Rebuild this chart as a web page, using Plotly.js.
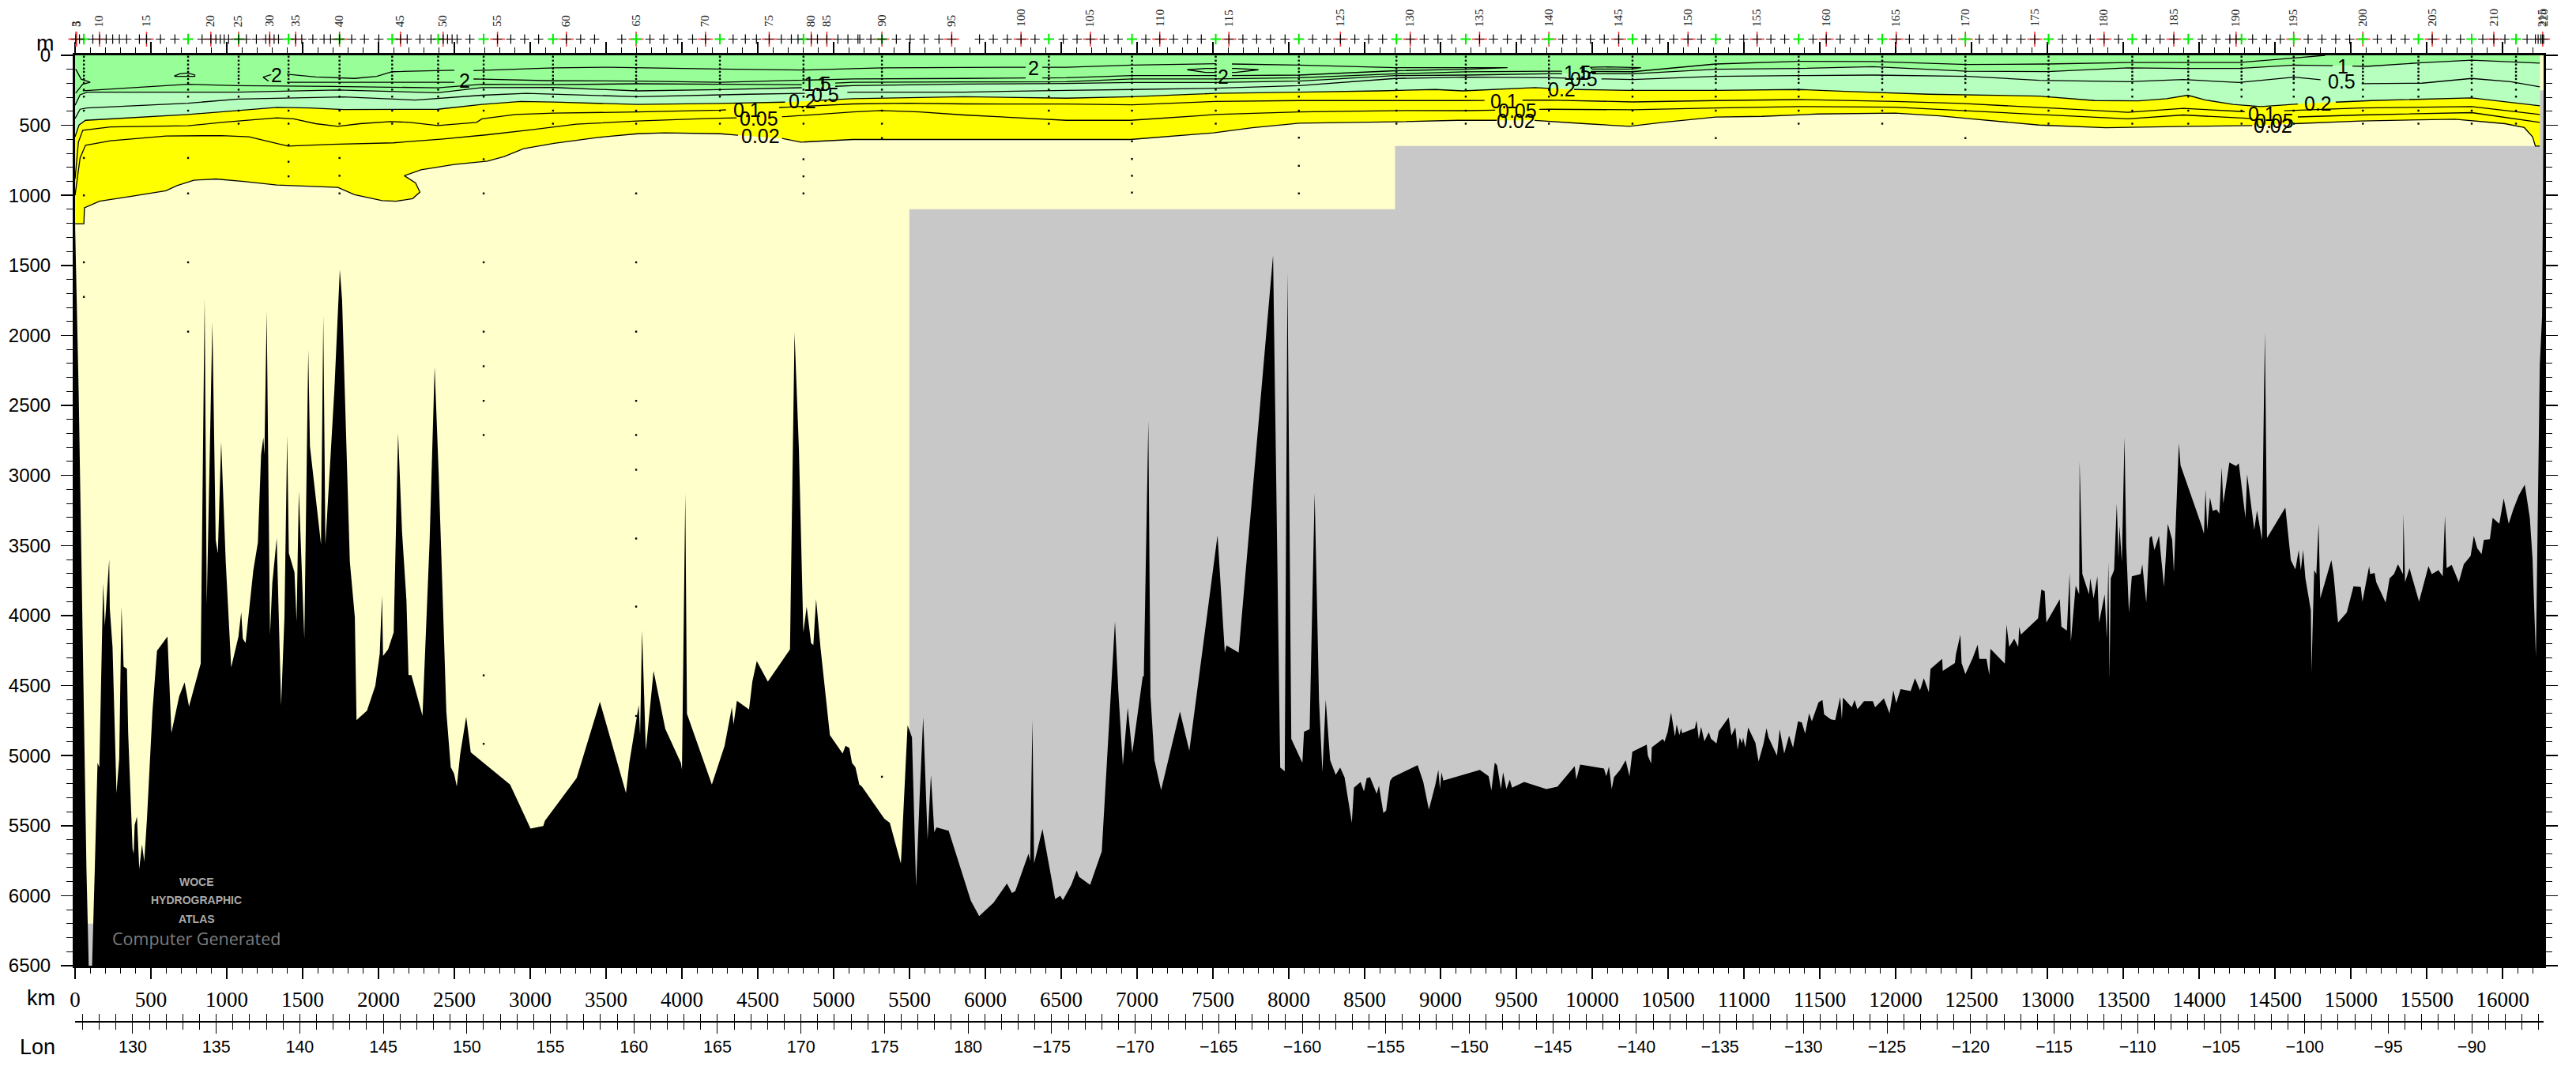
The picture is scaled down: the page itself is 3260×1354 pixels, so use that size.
<!DOCTYPE html>
<html><head><meta charset="utf-8">
<script src="https://cdn.plot.ly/plotly-3.0.1.min.js"></script>
<style>html,body{margin:0;padding:0;background:#fff}#c{width:3260px;height:1354px}</style></head>
<body><div id="c"></div>
<script>
// ---- sea-floor profile: [distance km, depth m]
const bottomWest=[[0,1200],[24,2418],[75,5800],[90,6500],[112,6500],[130,5800],[148,5044],[160,5074],[185,3762],[196,4067],[225,3594],[229,3945],[247,4220],[273,5258],[291,5013],[306,3930],[320,4357],[342,4372],[350,4830],[379,5655],[386,5690],[393,5487],[408,5426],[423,5800],[441,5624],[456,5746],[474,5441],[510,4678],[540,4244],[609,4143],[635,4830],[686,4570],[722,4470],[751,4641],[828,4336],[854,1731],[868,3914],[905,1899],[927,3456],[941,3550],[963,2754],[993,3609],[1029,4363],[1077,4143],[1095,3969],[1106,4158],[1124,4189],[1175,3670],[1205,3472],[1226,2846],[1241,2724],[1248,2846],[1263,1823],[1285,4128],[1300,3762],[1329,3441],[1358,4632],[1380,4006],[1398,2708],[1409,3548],[1446,3685],[1460,4036],[1475,3105],[1511,4158],[1537,2098],[1548,2785],[1621,3487],[1636,1854],[1650,3487],[1709,2388],[1745,1527],[1760,1747],[1811,3609],[1844,4006],[1855,4739],[1924,4671],[1979,4494],[2008,4266],[2023,3853],[2030,4281],[2063,4235],[2100,4113],[2129,2693],[2155,3395],[2184,3884],[2198,4418],[2217,4418],[2290,4708],[2337,3456],[2370,2220],[2396,2968],[2425,3930],[2447,4678],[2476,5074],[2498,5120],[2516,5212],[2538,4983],[2578,4714],[2608,4968],[2867,5197],[3002,5511],[3086,5493],[3097,5456],[3306,5151],[3459,4607],[3631,5258],[3653,5044],[3715,4632],[3724,4845],[3737,4098],[3762,4952],[3813,4388],[3890,4800],[3993,5044],[4000,5090],[4022,3121],[4033,4693],[4197,5197],[4281,4922],[4329,4647],[4340,4769],[4362,4601],[4442,4662],[4464,4464],[4493,4317],[4566,4464],[4712,4235],[4742,1976],[4771,2815],[4800,4113],[4822,3930],[4851,4189],[4866,4204],[4884,3875],[4913,4220],[4975,4845],[5059,4977],[5078,4922],[5103,4937],[5121,5044],[5143,5074],[5169,5197],[5186,5212],[5334,5441],[5370,5471],[5443,5761],[5487,4775],[5516,4861]];
const bottomCentral=[[5543,5923],[5568,5247],[5590,4718],[5619,5589],[5641,5128],[5663,5537],[5678,5503],[5758,5527],[5904,6026],[5959,6135],[6054,6040],[6142,5903],[6175,5971],[6197,5957],[6284,5691],[6295,5742],[6310,4735],[6321,5759],[6376,5514],[6460,6015],[6493,5991],[6511,6022],[6566,5913],[6602,5810],[6617,5855],[6690,5913],[6767,5674],[6854,4035],[6876,4530],[6906,5060],[6938,4650],[6968,4974],[7037,4428],[7044,4428],[7074,2602],[7088,4565],[7114,5025],[7158,5237],[7282,4677],[7344,4957],[7530,3421],[7578,4257],[7589,4206],[7669,4257],[7896,1424],[7943,5077],[7973,5104],[7991,1543],[8016,4872],[8089,5043],[8100,4821],[8137,4804],[8170,3120],[8199,4600],[8221,5111],[8243,4592],[8272,5025],[8309,5128],[8338,5077],[8367,5145],[8415,5469],[8429,5220],[8473,5179],[8495,5247],[8513,5152],[8535,5145],[8579,5264],[8594,5206],[8623,5401],[8641,5384],[8667,5172],[8685,5145],[8849,5060],[8886,5179],[8923,5377],[8966,5196],[8985,5094],[8996,5230],[9006,5111],[9018,5169],[9259,5094],[9317,5138],[9335,5240],[9357,5043],[9372,5060],[9398,5230],[9412,5111],[9434,5230],[9456,5162],[9471,5220],[9551,5179],[9697,5230],[9770,5213],[9884,5066],[9895,5162],[9920,5056],[10077,5084],[10092,5138],[10110,5070],[10128,5230],[10143,5145],[10183,5094],[10205,5053],[10220,5025],[10245,5138],[10264,4964],[10359,4913],[10366,4991],[10388,5049],[10392,4933],[10465,4872],[10476,4892],[10497,4821],[10519,4684],[10545,4855],[10556,4770],[10574,4845],[10585,4797],[10592,4831],[10676,4797],[10687,4742],[10702,4872],[10717,4786],[10739,4889]];
const bottomEast=[[10768,4825],[10782,4871],[10819,4905],[10833,4819],[10899,4719],[10917,4848],[10943,4790],[10958,4949],[10972,4862],[10987,4905],[10994,4862],[11009,4934],[11027,4790],[11075,4900],[11096,5035],[11129,4905],[11148,4796],[11162,4862],[11217,4992],[11235,4805],[11265,4977],[11297,4848],[11323,4934],[11356,4747],[11381,4756],[11403,4834],[11429,4690],[11447,4747],[11491,4612],[11517,4595],[11528,4698],[11572,4733],[11601,4739],[11634,4575],[11645,4733],[11652,4578],[11710,4647],[11729,4595],[11747,4661],[11791,4604],[11849,4604],[11864,4647],[11922,4583],[11959,4690],[11984,4526],[12003,4618],[12032,4517],[12098,4532],[12127,4440],[12160,4526],[12185,4440],[12218,4538],[12229,4374],[12306,4302],[12310,4388],[12390,4331],[12397,4267],[12426,4130],[12434,4331],[12459,4411],[12507,4296],[12540,4201],[12551,4302],[12598,4302],[12617,4417],[12624,4230],[12719,4336],[12730,4058],[12748,4216],[12781,4158],[12807,4216],[12814,4072],[12825,4129],[12938,4014],[12960,3808],[12982,3820],[12993,4043],[13081,3877],[13092,4072],[13128,4101],[13146,3690],[13154,4181],[13186,3779],[13209,3842],[13212,2894],[13230,3698],[13274,3842],[13282,3727],[13304,3871],[13329,3713],[13340,4043],[13377,3842],[13391,4158],[13402,3612],[13409,4446],[13417,3727],[13439,3670],[13457,3195],[13468,3583],[13475,3354],[13490,3612],[13508,2721],[13519,3497],[13537,3971],[13556,3713],[13614,3698],[13625,3627],[13651,3900],[13673,3440],[13687,3425],[13705,3526],[13735,3425],[13768,3785],[13793,3339],[13822,3454],[13833,3684],[13866,2764],[13877,2922],[14016,3353],[14031,3411],[14042,3095],[14053,3382],[14071,3152],[14089,3247],[14115,3238],[14133,3267],[14148,2937],[14159,3195],[14199,2902],[14243,2928],[14261,2908],[14305,3296],[14316,2986],[14363,3382],[14381,3244],[14414,3454],[14433,1974],[14447,3440],[14568,3224],[14604,3598],[14634,3664],[14656,3526],[14670,3670],[14685,3526],[14700,3727],[14736,3957],[14740,4388],[14758,3670],[14772,3698],[14787,3339],[14798,3871],[14871,3598],[14886,3698],[14915,4043],[14973,3971],[15017,3785],[15065,3790],[15076,3894],[15120,3641],[15127,3698],[15156,3690],[15167,3756],[15229,3900],[15255,3727],[15284,3698],[15310,3627],[15343,3698],[15346,3267],[15357,3756],[15386,3655],[15449,3894],[15511,3641],[15533,3698],[15577,3670],[15605,3713],[15620,3282],[15631,3655],[15664,3632],[15711,3756],[15744,3627],[15789,3569],[15810,3425],[15832,3512],[15861,3555],[15876,3454],[15916,3448],[15934,3296],[15978,3339],[16007,3158],[16040,3339],[16070,3238],[16106,3138],[16146,3060],[16179,3296],[16197,3584],[16219,4288],[16245,2204],[16260,1859],[16266,1000],[16270,250]];
// ---- background regions
const paleZone=[[0,0],[16270,0],[16270,6500],[0,6500]];
const grayZones=[[[5499,1099],[8700,1099],[8700,648],[16270,648],[16270,6500],[5499,6500]],[[16245,250],[16270,250],[16270,648],[16245,648]],[[60,6200],[125,6200],[125,6500],[60,6500]]];
// ---- isolines: [distance km, depth m]
const c2Main=[[1396,135],[1586,154],[1842,165],[1988,150],[2090,117],[2499,107],[2627,109],[3157,90],[3522,85],[4253,98],[4801,105],[5318,90],[6261,85],[6534,85],[6968,70],[7515,60],[8067,70],[8704,88],[9164,88],[9441,88],[9164,100],[8704,110],[8067,141],[7515,145],[6968,145],[6534,160],[5859,165],[5128,169],[4253,192],[3705,184],[3157,182],[2627,169],[2499,193],[2090,193],[1396,193]];
const c2Lens1=[[654,147],[691,132],[745,126],[789,141],[789,150],[654,150]];
const c2Lens2=[[1293,137],[1239,156],[1275,184]];
const c2Lens3=[[7331,103],[7450,94],[7515,94],[7650,94],[7800,103],[7650,122],[7450,122],[7331,103]];
const c2Lens4=[[9987,85],[10100,83],[10321,88],[10266,98],[10000,98],[9987,85]];
const c2Lens5=[[4,98],[40,170],[100,192],[50,207],[4,270]];
const c15=[[51,253],[745,207],[1074,216],[1695,222],[2390,232],[2682,207],[3157,210],[3705,203],[4253,207],[4801,210],[5128,192],[5859,190],[6534,188],[6968,169],[7515,169],[8067,160],[8704,132],[9164,118],[9711,113],[10266,117],[10813,62],[11360,43],[11849,44],[12470,66],[13000,62],[13530,51],[14261,51],[14626,19],[14830,0]];
const c1=[[0,357],[33,282],[80,263],[745,263],[1074,263],[1732,248],[2390,267],[2682,231],[3157,230],[3705,254],[4253,245],[4801,231],[5128,216],[5859,205],[6534,201],[6968,194],[7515,194],[8067,184],[8704,145],[9164,141],[9711,132],[10266,132],[10813,100],[11360,94],[11849,81],[12470,113],[13000,116],[13530,90],[13895,94],[14261,94],[14626,70],[14955,75],[15101,79],[15467,53],[15796,34],[16245,56]];
const c05=[[0,451],[33,385],[77,376],[745,342],[1074,312],[1769,297],[2244,319],[2682,285],[2974,272],[3705,295],[4436,278],[4801,272],[5128,263],[5859,263],[6534,250],[6968,244],[7515,235],[8067,216],[8704,165],[9164,156],[9711,160],[10266,173],[10813,150],[11360,145],[11849,141],[12470,150],[12945,178],[13530,188],[13895,173],[14261,194],[14626,156],[15065,203],[15467,199],[15796,165],[16052,188],[16245,225]];
const c02=[[0,582],[26,498],[69,464],[745,422],[1074,394],[1330,372],[1549,376],[1769,387],[2390,385],[2682,351],[2938,329],[3157,334],[3705,351],[4253,344],[4692,334],[5128,310],[5859,295],[6534,306],[6968,295],[7515,272],[8067,263],[8599,254],[8965,244],[9147,254],[9622,231],[9878,244],[10244,250],[10813,250],[11360,244],[11666,257],[12215,278],[12945,291],[13311,323],[13603,325],[13786,310],[13925,285],[14042,319],[14224,351],[14407,366],[14700,344],[15138,323],[15796,304],[16245,360]];
const c01=[[0,883],[22,620],[51,535],[234,511],[745,503],[965,479],[1330,447],[1440,454],[1586,488],[1732,507],[1878,488],[2079,473],[2207,479],[2390,501],[2646,479],[2682,454],[2901,423],[3157,413],[3705,404],[4253,391],[4692,370],[5128,347],[5493,342],[5859,347],[6534,348],[6968,353],[7515,329],[8067,323],[8782,323],[9164,323],[9711,319],[10266,333],[10813,323],[11360,316],[11995,329],[12434,344],[13019,376],[13530,407],[13895,379],[14334,404],[15065,376],[15796,366],[16245,423]];
const c005=[[0,1000],[33,733],[69,642],[234,610],[599,576],[965,573],[1147,582],[1293,620],[1403,648],[1695,635],[2097,625],[2426,597],[2719,567],[3011,531],[3303,492],[3705,469],[4180,451],[4692,437],[5128,404],[5311,394],[5566,404],[5859,426],[6534,464],[6955,464],[7515,423],[8067,404],[8782,394],[9164,395],[9711,385],[10266,389],[10813,376],[11360,366],[11995,370],[12434,394],[12945,423],[13530,454],[13895,426],[14334,451],[15065,426],[15796,409],[16245,479]];
const c002=[[0,1202],[58,1202],[62,1089],[161,1042],[380,1005],[599,967],[672,930],[782,892],[928,883],[1111,901],[1330,926],[1732,943],[1842,995],[2024,1037],[2116,1042],[2225,1023],[2273,976],[2244,911],[2170,860],[2280,817],[2499,779],[2719,755],[2828,723],[2956,667],[3157,629],[3449,586],[3705,560],[3888,554],[4253,560],[4399,573],[4655,592],[4783,620],[5128,601],[6407,601],[6955,601],[7503,554],[7759,517],[8069,484],[8709,475],[9111,464],[9604,464],[9951,488],[10244,507],[10463,479],[10813,441],[11118,436],[11484,419],[11995,413],[12288,432],[12470,451],[12945,498],[13384,517],[13932,507],[14371,501],[14626,488],[15065,469],[15686,456],[16015,488],[16143,516],[16197,582],[16216,648],[16245,648]];
const surface=[[0,0],[16245,0]];
// ---- isoline label gaps (km)
const gaps2=[[2500,2626],[6265,6375],[7520,7625]];
const gaps15=[[4790,5010],[9800,9990]];
const gaps1=[[4790,5010],[9800,10000],[14880,15010]];
const gaps05=[[4810,5090],[9830,10060],[14800,15070]];
const gaps02=[[4680,4900],[9720,9880],[14650,14900]];
const gaps01=[[4290,4640],[9290,9540],[14300,14560]];
const gaps005=[[4360,4660],[9360,9650],[14350,14650]];
const gaps002=[[4370,4660],[9370,9620],[14350,14620]];
// ---- isoline labels
const isoLabelKm=[1330,2565,6319,7569,4893,4929,4947,4794,4429,4509,4516,9904,9944,9944,9798,9421,9505,9495,14948,14941,14783,14414,14498,14487];
const isoLabelDepth=[141,179,90,150,205,205,282,329,391,451,578,122,122,169,240,329,394,466,79,184,344,417,470,503];
const isoLabelText=["2","2","2","2","1.5","1","0.5","0.2","0.1","0.05","0.02","1.5","1","0.5","0.2","0.1","0.05","0.02","1","0.5","0.2","0.1","0.05","0.02"];
// ---- stations
const stationKm=[4,29,117,161,205,248,292,340,424,471,563,658,837,895,928,957,983,1012,1078,1129,1195,1257,1283,1312,1341,1454,1494,1567,1641,1684,1743,1823,1907,2002,2145,2189,2273,2346,2426,2455,2485,2518,2602,2784,2872,2963,3055,3238,3332,3424,3603,3789,3880,3972,4070,4155,4337,4418,4491,4575,4655,4721,4765,4852,4893,4955,5028,5094,5160,5172,5245,5318,5413,5504,5596,5694,5778,5961,6052,6144,6235,6327,6513,6604,6692,6783,6875,7057,7149,7240,7331,7423,7605,7697,7788,7879,7975,8157,8249,8340,8435,8526,8618,8800,8892,8983,9074,9257,9348,9440,9531,9622,9805,9897,9988,10079,10174,10353,10445,10536,10631,10719,10906,10998,11086,11177,11268,11455,11542,11634,11729,11820,12003,12090,12185,12277,12368,12551,12642,12733,12825,12916,13099,13190,13282,13373,13468,13651,13742,13833,14020,14111,14202,14243,14352,14444,14535,14718,14809,14900,14992,15174,15266,15357,15536,15631,15722,15869,15942,16015,16161,16216,16234,16252,16262,16270];
const sampledKm=[58,745,1078,1407,1743,2090,2393,2693,3150,3698,4250,4801,5318,6418,6966,7518,8066,8709,9166,9714,10265,10814,11360,11911,12459,13007,13559,13928,14279,14623,15079,15445,15796,16088];
const labeledNumber=["3","5","10","15","20","25","30","35","40","45","50","55","60","65","70","75","80","85","90","95","100","105","110","115","125","130","135","140","145","150","155","160","165","170","175","180","185","190","195","200","205","210","215","220"];
const labeledKm=[5,10,161,471,895,1078,1283,1454,1743,2145,2426,2784,3238,3698,4155,4575,4852,4955,5318,5778,6235,6692,7149,7605,8340,8800,9257,9714,10174,10631,11086,11542,12003,12459,12916,13373,13833,14243,14623,15079,15536,15942,16264,16270];
// ---- sample depths
const shallowDepths=[10,38,66,94,118,145,169,197,245,295,395];
const deepDepthsByColumn=[[733,1000,1478,1725],[733,986,1478,1973],[488],[488,640,760,864],[488,733,860,986,1973,2220,2467,2711,2959,3252,3548,3838,4113],[488],[488],[742,986,1478,1973,2220,2467,2711,4427,4916],[488],[488,986,1478,1973,2467,2711,2959,3450,3936,4717],[488],[488,742,864,986],[488,591,5151],[488],[488,614,740,860,980],[488],[588,789,986],[488],[488],[488],[488],[591],[488],[488],[591],[488],[488],[488],[488],[488],[488],[488],[488],[488]];
// ---- axes
const lonTickVals=[130,135,140,145,150,155,160,165,170,175,180,185,190,195,200,205,210,215,220,225,230,235,240,245,250,255,260,265,270];
const lonTickText=["130","135","140","145","150","155","160","165","170","175","180","\u2212175","\u2212170","\u2212165","\u2212160","\u2212155","\u2212150","\u2212145","\u2212140","\u2212135","\u2212130","\u2212125","\u2212120","\u2212115","\u2212110","\u2212105","\u2212100","\u221295","\u221290"];
const kmMax=16270, depthMax=6500, lonStart=126.55, lonEnd=274.3;
const readingCalibration=1.0017;

const H=1354, pyP=py=>(H-py)/H, pxP=px=>(px-95.4)/3123.6;
const X=p=>p.map(q=>q[0]), Y=p=>p.map(q=>q[1]);
function brk(pts,gaps){const xs=[],ys=[];const inside=x=>gaps.some(g=>x>g[0]&&x<g[1]);
 for(let i=0;i<pts.length-1;i++){const [x0,y0]=pts[i],[x1,y1]=pts[i+1];const cuts=[0,1];
  if(x1!==x0)gaps.forEach(g=>g.forEach(e=>{const t=(e-x0)/(x1-x0);if(t>0&&t<1)cuts.push(t);}));
  cuts.sort((a,b)=>a-b);
  for(let j=0;j<cuts.length-1;j++){const a=cuts[j],b=cuts[j+1];const mx=x0+(x1-x0)*(a+b)/2;
   if(inside(mx)){xs.push(null);ys.push(null);}
   else{xs.push(x0+(x1-x0)*a,x0+(x1-x0)*b);ys.push(y0+(y1-y0)*a,y0+(y1-y0)*b);}}}
 return {x:xs,y:ys};}
const fillTr=(p,color,mode)=>({type:'scatter',mode:'lines',x:X(p),y:Y(p),fill:mode,fillcolor:color,line:{width:0,simplify:false},hoverinfo:'skip',showlegend:false});
const lineTr=(p,g)=>{const b=brk(p,g);return {type:'scatter',mode:'lines',x:b.x,y:b.y,line:{color:'#000',width:1.3,simplify:false},connectgaps:false,hoverinfo:'skip',showlegend:false};};

const grayX=[],grayY=[];grayZones.forEach(z=>{z.concat([z[0]]).forEach(q=>{grayX.push(q[0]);grayY.push(q[1]);});grayX.push(null);grayY.push(null);});
const dotX=[],dotY=[];sampledKm.forEach((k,i)=>{shallowDepths.concat(deepDepthsByColumn[i]).forEach(d=>{dotX.push(k);dotY.push(d);});});
const seabed=bottomWest.concat(bottomCentral,bottomEast).map(q=>[q[0],Math.min(depthMax,q[1]*readingCalibration)]).concat([[kmMax,depthMax],[0,depthMax],[0,1200]]);

const rowPx=49.5;
const mk=(x,size,color,w)=>({type:'scatter',mode:'markers',yaxis:'y2',x:x,y:x.map(()=>rowPx),cliponaxis:false,marker:{symbol:'cross-thin',size:size,line:{color:color,width:w}},hoverinfo:'skip',showlegend:false});
const redKm=labeledKm.slice(0,-1);

const traces=[
 fillTr(paleZone.concat([paleZone[0]]),'#FFFFCC','toself'),
 {type:'scatter',mode:'lines',x:grayX,y:grayY,fill:'toself',fillcolor:'#C8C8C8',line:{width:0},hoverinfo:'skip',showlegend:false},
 fillTr(surface,'rgba(0,0,0,0)','none'),
 fillTr(c1,'#98FF98','tonexty'),
 fillTr(c02,'#B6FFBE','tonexty'),
 fillTr(c002,'#FFFF00','tonexty'),
 lineTr(c2Lens5,[]),lineTr(c2Main,gaps2),lineTr(c2Lens1,[]),lineTr(c2Lens2,[]),lineTr(c2Lens3,gaps2),lineTr(c2Lens4,[]),
 lineTr(c15,gaps15),lineTr(c1,gaps1),lineTr(c05,gaps05),lineTr(c02,gaps02),lineTr(c01,gaps01),lineTr(c005,gaps005),lineTr(c002,gaps002),
 {type:'scatter',mode:'markers',x:dotX,y:dotY,marker:{symbol:'square',size:2.4,color:'#000'},hoverinfo:'skip',showlegend:false},
 {type:'scatter',mode:'lines',x:X(seabed),y:Y(seabed),fill:'toself',fillcolor:'#000',line:{width:0,simplify:false},hoverinfo:'skip',showlegend:false},
 mk(redKm,13.5,'#FF3030',1.5),
 mk(sampledKm,9.5,'#00EE00',2),
 mk(stationKm,8.5,'#000',1.2),
 {type:'scatter',mode:'none',x:[lonStart,lonEnd],y:[0,0],xaxis:'x3',hoverinfo:'skip',showlegend:false},
 {type:'scatter',mode:'none',x:[lonStart,lonEnd],y:[0,0],xaxis:'x4',hoverinfo:'skip',showlegend:false}
];

const ann=[];
labeledKm.forEach((k,i)=>ann.push({x:k,y:pyP(36),xref:'x',yref:'paper',text:labeledNumber[i],textangle:-90,showarrow:false,xanchor:'center',yanchor:'bottom',font:{family:'Liberation Serif',size:15,color:'#222'}}));
isoLabelKm.forEach((k,i)=>ann.push({x:k,y:isoLabelDepth[i],xref:'x',yref:'y',text:isoLabelText[i],showarrow:false,xanchor:'center',yanchor:'middle',font:{family:'Liberation Sans',size:25,color:'#000'}}));
const txt=(px,py,t,size,color,fam)=>ann.push({x:pxP(px),y:pyP(py),xref:'paper',yref:'paper',text:t,showarrow:false,xanchor:'center',yanchor:'middle',font:{family:fam||'Liberation Sans',size:size,color:color||'#000'}});
txt(57.5,55,'m',27);txt(52,1263,'km',27);txt(47.5,1325,'Lon',27);
txt(249,1116,'<b>WOCE</b>',14,'#aaa');txt(249,1139,'<b>HYDROGRAPHIC</b>',14,'#aaa');txt(249,1163,'<b>ATLAS</b>',14,'#aaa');txt(249,1187,'Computer Generated',21.5,'#7c7c7c','Open Sans');

const lonAxis=(extra)=>Object.assign({overlaying:'x',anchor:'free',position:(H-1293)/H,range:[lonStart,lonEnd],tickmode:'array',tickvals:lonTickVals,showgrid:false,zeroline:false,showline:true,linecolor:'#000',linewidth:2,tickcolor:'#000',tickwidth:1,ticklen:14,minor:{dtick:1,tick0:130,ticks:extra.ticks,ticklen:9,tickcolor:'#000',tickwidth:1,showgrid:false}},extra);

const layout={width:3260,height:H,margin:{l:95.4,r:41,t:0,b:0,pad:0},paper_bgcolor:'#fff',plot_bgcolor:'#fff',showlegend:false,annotations:ann,
 xaxis:{range:[0,kmMax],tick0:0,dtick:500,tickformat:'d',ticks:'outside',ticklen:14,tickwidth:1.5,tickcolor:'#000',showgrid:false,zeroline:false,showline:true,linecolor:'#000',linewidth:3,mirror:'ticks',ticklabelstandoff:3,tickfont:{family:'Liberation Sans Narrow',size:27,color:'#000'},minor:{dtick:100,tick0:0,ticks:'outside',ticklen:7,tickwidth:1,tickcolor:'#000',showgrid:false}},
 yaxis:{domain:[132/H,(H-70)/H],range:[depthMax,0],tick0:0,dtick:500,tickformat:'d',ticks:'outside',ticklen:15,tickwidth:1.5,tickcolor:'#000',showgrid:false,zeroline:false,showline:true,linecolor:'#000',linewidth:3,mirror:'ticks',ticklabelstandoff:8,tickfont:{family:'Liberation Sans',size:24,color:'#000'},minor:{dtick:100,tick0:0,ticks:'outside',ticklen:8,tickwidth:1,tickcolor:'#000',showgrid:false}},
 yaxis2:{domain:[(H-62)/H,1],range:[62,0],anchor:'x',visible:false},
 xaxis3:lonAxis({ticks:'outside',ticktext:lonTickText,ticklabelstandoff:-2,tickfont:{family:'Liberation Sans',size:21.5,color:'#000'}}),
 xaxis4:lonAxis({ticks:'inside',ticktext:lonTickText.map(()=>''),showticklabels:false})
};
Plotly.newPlot('c',traces,layout,{displayModeBar:false,staticPlot:true});
</script></body></html>
